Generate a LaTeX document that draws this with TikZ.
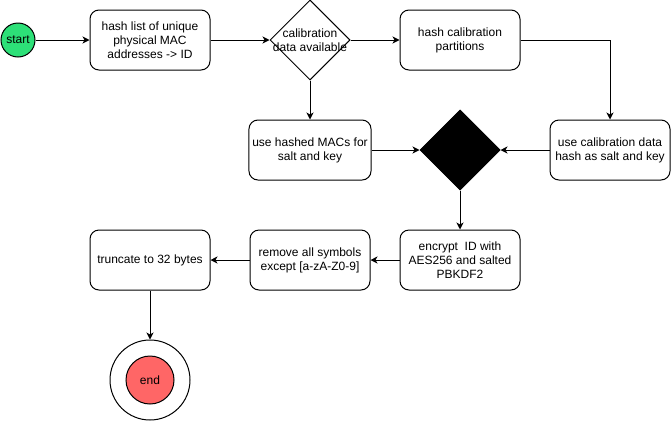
\documentclass[tikz,border=0pt]{standalone}
\usepackage{fontspec}
\setmainfont{Liberation Sans}
\usepackage{xcolor}
\usepackage{tikz}
\usetikzlibrary{shapes.geometric,arrows.meta}
\definecolor{startgreen}{RGB}{45,224,120}
\definecolor{endred}{RGB}{255,102,102}
\tikzset{box/.style={rectangle,draw,rounded corners=9pt,minimum width=120pt,minimum height=60pt,align=center,font=\fontsize{12}{14}\selectfont},
  rhomb/.style={diamond,draw,aspect=1,minimum size=80pt,inner sep=0pt},
  dot/.style={circle,draw,inner sep=0pt,font=\fontsize{12}{14}\selectfont}}

\begin{document}
\begin{tikzpicture}[x=1pt,y=-1pt,line width=1pt,>={Stealth[length=7pt,width=7pt,inset=2pt]}]
    \useasboundingbox (0,0) rectangle (671,421);
    \node[dot,fill=startgreen,minimum size=34pt] (s) at (18,40) {start};
    \node[box] (a) at (150,40) {hash list of unique\\physical MAC\\addresses -> ID};
    \node[rhomb,label={[align=center,font=\fontsize{12}{14}\selectfont]center:calibration\\data available}] (c) at (310,40) {};
    \node[box] (b) at (460,40) {hash calibration\\partitions};
    \node[box] (d) at (310,150) {use hashed MACs for\\salt and key};
    \node[box] (e) at (610,150) {use calibration data\\hash as salt and key};
    \node[rhomb,fill=black] (m) at (460,150) {};
    \node[box] (f) at (460,260) {encrypt\ \ ID with\\AES256 and salted\\PBKDF2};
    \node[box] (g) at (310,260) {remove all symbols\\except [a-zA-Z0-9]};
    \node[box] (h) at (150,260) {truncate to 32 bytes};
    \node[dot,minimum size=80pt] (z) at (150,380) {};
    \node[dot,fill=endred,minimum size=48pt] (y) at (150,380) {end};

    \draw [->] (s) to (a);
    \draw [->] (a) to (c);
    \draw [->] (c) to (b);
    \draw [->] (c) to (d);
    \draw [->] (b) -| (e);
    \draw [->] (d) to (m);
    \draw [->] (e) to (m);
    \draw [->] (m) to (f);
    \draw [->] (f) to (g);
    \draw [->] (g) to (h);
    \draw [->] (h) to (z);
\end{tikzpicture}
\end{document}
